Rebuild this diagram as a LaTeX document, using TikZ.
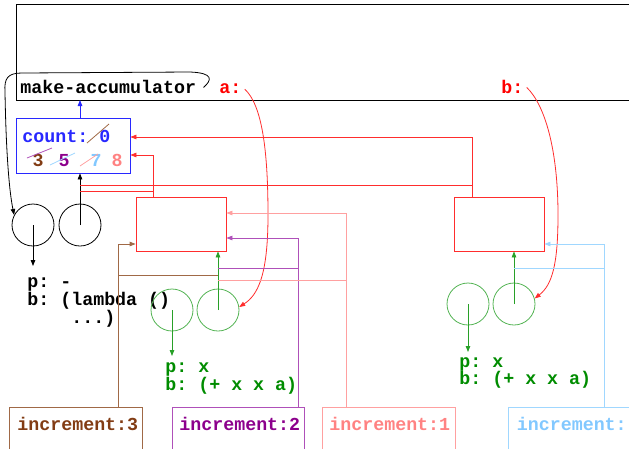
\documentclass[tikz,border=0pt]{standalone}
\usepackage{fontspec}
\setmonofont{Liberation Mono}
\usetikzlibrary{arrows.meta,calc}
\definecolor{cred}{RGB}{255,45,45}
\definecolor{credtxt}{RGB}{255,0,0}
\definecolor{cpink}{RGB}{255,160,160}
\definecolor{cpinktxt}{RGB}{255,130,130}
\definecolor{cpurple}{RGB}{175,80,185}
\definecolor{cpurpletxt}{RGB}{140,0,140}
\definecolor{cbrown}{RGB}{160,105,70}
\definecolor{cbrowntxt}{RGB}{130,60,20}
\definecolor{clblue}{RGB}{160,215,255}
\definecolor{clbluetxt}{RGB}{130,200,255}
\definecolor{cgreen}{RGB}{40,160,40}
\definecolor{cgreentxt}{RGB}{0,140,0}
\definecolor{cblue}{RGB}{40,40,255}
\begin{document}
\begin{tikzpicture}[x=1pt,y=-1pt,line width=0.8pt,
  txt/.style={font=\ttfamily\bfseries\fontsize{18.3}{18}\selectfont,inner sep=0pt,anchor=base west},
  dig/.style={txt,anchor=base},
  arr/.style={-{Triangle[length=6pt,width=4.5pt]}},
  cell/.style={circle,draw,minimum size=42pt,inner sep=0pt},
  envbox/.style={draw=cred,minimum width=90pt,minimum height=54pt,inner sep=0pt},
  incbox/.style={draw,anchor=north west,minimum height=60pt,inner sep=0pt}]
\useasboundingbox (0,0) rectangle (629,448);
\clip (0,0) rectangle (629,448);
% global frame
\draw (16,4) rectangle (680,100);
\node[txt] (mk) at (20,93) {make-accumulator};
\node[txt,text=credtxt] (la) at (219,93) {a:};
\node[txt,text=credtxt] (lb) at (501,93) {b:};
\coordinate (fb) at (80,100);
% count frame
\node[draw=cblue,minimum width=114pt,minimum height=55pt,inner sep=0pt] (cnt) at (73,145.5) {};
\node[txt,text=cblue] (cnttxt) at (22,142) {count: 0};
\node[dig,text=cbrowntxt] (d3) at (38,166) {3};
\node[dig,text=cpurpletxt] (d5) at (64,166) {5};
\node[dig,text=clbluetxt] (d7) at (96,166) {7};
\node[dig,text=cpinktxt] (d8) at (117,166) {8};
\draw[cbrown] (87,143) -- (109,124);
\draw[cpurple] (27,158) -- (52,148);
\draw[clblue] (50,165) -- (75,153);
\draw[cpink] (80,166) -- (98,154);
% procedure object
\node[cell] (c1) at (33,225) {};
\node[cell] (c2) at (80,225) {};
\coordinate (pc1) at (33,266);
\node[txt] (pb1) at (27,287) {p: -};
\node[txt] (pb2) at (27,305) {b: (lambda ()};
\node[txt] (pb3) at (71,323) {...)};
% environment frames E1, E2
\node[envbox] (E1) at (181,224) {};
\node[envbox] (E2) at (499,224) {};
% procedure objects (green)
\node[cell,draw=cgreen!80] (g1) at (172,310) {};
\node[cell,draw=cgreen!80] (g2) at (218,310) {};
\node[cell,draw=cgreen!80] (g3) at (468,304) {};
\node[cell,draw=cgreen!80] (g4) at (514,304) {};
\coordinate (pg1) at (172,356);
\coordinate (pg3) at (468,352);
\node[txt,text=cgreentxt] (ga1) at (165,372) {p: x};
\node[txt,text=cgreentxt] (ga2) at (165,390) {b: (+ x x a)};
\node[txt,text=cgreentxt] (gb1) at (459,367) {p: x};
\node[txt,text=cgreentxt] (gb2) at (459,384) {b: (+ x x a)};
% increment frames
\node[incbox,draw=cbrown,minimum width=133pt] (i3) at (9,407) {};
\node[incbox,draw=cpurple,minimum width=132pt] (i2) at (172,407) {};
\node[incbox,draw=cpink,minimum width=133pt] (i1) at (322,407) {};
\node[incbox,draw=clblue,minimum width=170pt] (i0) at (508,407) {};
\node[txt,text=cbrowntxt] (t3) at (17,430) {increment:3};
\node[txt,text=cpurpletxt] (t2) at (179,430) {increment:2};
\node[txt,text=cpinktxt] (t1) at (329,430) {increment:1};
\node[txt,text=clbluetxt] (t0) at (516.5,430) {increment:};
% black connectors
\draw[arr] ($(mk.east)+(7,1)$) .. controls (212,80) and (214,73) .. (190,72)
  -- (22,73) .. controls (8,73) and (4,78) .. (5,92)
  .. controls (6,150) and (9,190) .. (c1.152);
\draw[arr] (c1.center) -- (pc1);
\draw[arr] (c2.center) -- (cnt.south -| c2);
\draw[cblue,arr] (cnt.north -| fb) -- (fb);
% red connectors
\coordinate (r2) at (472,137);
\coordinate (r1) at (153,155);
\coordinate (r2b) at (472,185);
\coordinate (r1b) at (153,191);
\draw[cred,arr] (E2.north -| r2) -- (r2) -- (cnt.east |- r2);
\draw[cred,arr] (E1.north -| r1) -- (r1) -- (cnt.east |- r1);
\draw[cred] (r2b) -- (c2 |- r2b);
\draw[cred] (r1b) -- (c2 |- r1b);
\draw[cred,arr] ($(la.east)+(3,1)$) .. controls (262,105) and (268,150) .. (268,215)
  .. controls (268,275) and (258,295) .. (g2.8);
\draw[cred,arr] ($(lb.east)+(3,1)$) .. controls (545,105) and (558,150) .. (558,215)
  .. controls (558,265) and (552,285) .. (g4.15);
% green connectors
\draw[cgreen,arr] (g2.center) -- (E1.south -| g2);
\draw[cgreen,arr] (g4.center) -- (E2.south -| g4);
\draw[cgreen,arr] (g1.center) -- (pg1);
\draw[cgreen,arr] (g3.center) -- (pg3);
% increment frame pointers
\coordinate (b3) at (118,244);
\coordinate (p2) at (298,238);
\coordinate (p1) at (346,213);
\coordinate (p0) at (604,244);
\draw[cbrown,arr] (i3.north -| b3) -- (b3) -- (E1.west |- b3);
\draw[cpurple,arr] (i2.north -| p2) -- (p2) -- (E1.east |- p2);
\draw[cpink,arr] (i1.north -| p1) -- (p1) -- (E1.east |- p1);
\draw[clblue,arr] (i0.north -| p0) -- (p0) -- (E2.east |- p0);
\coordinate (h3) at (118,275);
\coordinate (h2) at (298,268);
\coordinate (h1) at (346,280);
\coordinate (h0) at (604,268);
\draw[cbrown] (h3) -- (g2 |- h3);
\draw[cpurple] (g2 |- h2) -- (h2);
\draw[cpink] (g2 |- h1) -- (h1);
\draw[clblue] (g4 |- h0) -- (h0);
\end{tikzpicture}
\end{document}
